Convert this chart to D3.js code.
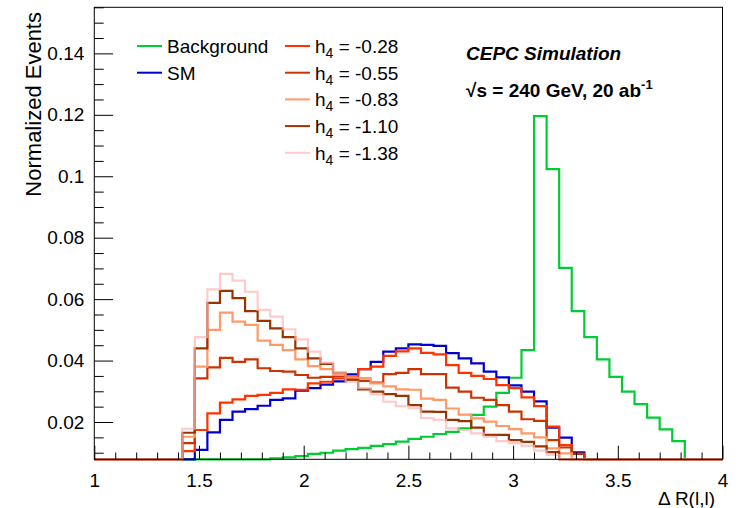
<!DOCTYPE html>
<html>
<head>
<meta charset="utf-8">
<script src="https://cdn.jsdelivr.net/npm/d3@7"></script>
<style>
  body { margin: 0; background: #fff; }
  svg { display: block; font-family: "Liberation Sans", Arial, Helvetica, sans-serif; }
</style>
</head>
<body>
<svg id="chart" width="738" height="508"></svg>
<script>
// Binning of the histograms: 50 bins of 0.06 between 1 and 4.
const xRange = [1, 4];
const nBins = 50;
const yRange = [0.00786, 0.155];

const xMajorTicks = [1, 1.5, 2, 2.5, 3, 3.5, 4];
const yMajorTicks = [0.02, 0.04, 0.06, 0.08, 0.1, 0.12, 0.14];

// Bin contents (normalized).
const background = [
    0, 0, 0, 0, 0, 0, 0, 0.0045, 0.005, 0.0055,
    0.006, 0.0065, 0.007, 0.0075, 0.0082, 0.0085, 0.0089, 0.0096, 0.0100, 0.0107,
    0.0112, 0.0116, 0.0122, 0.0128, 0.0136, 0.0145, 0.0152, 0.0161, 0.0168, 0.0179,
    0.0223, 0.0250, 0.0295, 0.0344, 0.0434, 0.1196, 0.1023, 0.0702, 0.0561, 0.0476,
    0.0404, 0.0347, 0.0299, 0.0258, 0.0214, 0.0176, 0.0138, 0.004, 0.001, 0
];
const sm = [
    0, 0, 0, 0, 0, 0, 0, 0.005, 0.0109, 0.0166,
    0.0207, 0.0234, 0.0242, 0.0253, 0.0272, 0.0277, 0.0302, 0.0310, 0.0322, 0.0332,
    0.0355, 0.0372, 0.0396, 0.0429, 0.0440, 0.0453, 0.0451, 0.0448, 0.0424, 0.0407,
    0.0391, 0.0364, 0.0345, 0.0319, 0.0299, 0.0267, 0.0182, 0.0149, 0.0101, 0,
    0, 0, 0, 0, 0, 0, 0, 0, 0, 0
];
const h4m028 = [
    0, 0, 0, 0, 0, 0, 0, 0.0105, 0.0174, 0.0228,
    0.0263, 0.0274, 0.0285, 0.0288, 0.0295, 0.0306, 0.0305, 0.0326, 0.0331, 0.0342,
    0.0345, 0.0372, 0.0380, 0.0415, 0.0430, 0.0440, 0.0425, 0.0420, 0.0385, 0.0360,
    0.0350, 0.0340, 0.0320, 0.0310, 0.0280, 0.0252, 0.0185, 0.0125, 0.0096, 0,
    0, 0, 0, 0, 0, 0, 0, 0, 0, 0
];
const h4m055 = [
    0, 0, 0, 0, 0, 0, 0, 0.0131, 0.0342, 0.0378,
    0.0409, 0.0396, 0.0404, 0.0375, 0.0366, 0.0364, 0.0353, 0.0344, 0.0347, 0.0350,
    0.0339, 0.0334, 0.0328, 0.0356, 0.0360, 0.0372, 0.0356, 0.0356, 0.0312, 0.0299,
    0.0279, 0.0272, 0.0255, 0.0234, 0.0209, 0.0204, 0.0141, 0.0117, 0.0096, 0,
    0, 0, 0, 0, 0, 0, 0, 0, 0, 0
];
const h4m083 = [
    0, 0, 0, 0, 0, 0, 0, 0.0152, 0.0380, 0.0500,
    0.0556, 0.0527, 0.0516, 0.0465, 0.0451, 0.0434, 0.0404, 0.0382, 0.0372, 0.0353,
    0.0344, 0.0343, 0.0326, 0.0316, 0.0306, 0.0305, 0.0276, 0.0272, 0.0244, 0.0224,
    0.0212, 0.0201, 0.0187, 0.0177, 0.0163, 0.0150, 0.0114, 0.0098, 0.007, 0,
    0, 0, 0, 0, 0, 0, 0, 0, 0, 0
];
const h4m110 = [
    0, 0, 0, 0, 0, 0, 0, 0.0165, 0.0440, 0.0588,
    0.0627, 0.0603, 0.0561, 0.0529, 0.0505, 0.0476, 0.0440, 0.0407, 0.0389, 0.0360,
    0.0337, 0.0306, 0.0299, 0.0291, 0.0285, 0.0255, 0.0234, 0.0233, 0.0207, 0.0203,
    0.0182, 0.0158, 0.0158, 0.0141, 0.0135, 0.0121, 0.0102, 0.007, 0, 0,
    0, 0, 0, 0, 0, 0, 0, 0, 0, 0
];
const h4m138 = [
    0, 0, 0, 0, 0, 0, 0, 0.0178, 0.0476, 0.0632,
    0.0682, 0.0660, 0.0624, 0.0565, 0.0543, 0.0502, 0.0469, 0.0429, 0.0393, 0.0359,
    0.0331, 0.0310, 0.0290, 0.0266, 0.0252, 0.0245, 0.0213, 0.0207, 0.0179, 0.0174,
    0.0163, 0.0152, 0.0138, 0.0131, 0.0122, 0.0107, 0.0093, 0.006, 0, 0,
    0, 0, 0, 0, 0, 0, 0, 0, 0, 0
];

const h4Labels = ["-0.28", "-0.55", "-0.83", "-1.10", "-1.38"];

// The last (pink) curve is a bit transparent, so the shared bottom line turns salmon.
const series = [
    { name: "Background", values: background, color: "#00cc33", opacity: 1 },
    { name: "SM", values: sm, color: "#0000cc", opacity: 1 },
    { name: h4Labels[0], values: h4m028, color: "#ff3300", opacity: 1 },
    { name: h4Labels[1], values: h4m055, color: "#cc3300", opacity: 1 },
    { name: h4Labels[2], values: h4m083, color: "#ff9966", opacity: 1 },
    { name: h4Labels[3], values: h4m110, color: "#993300", opacity: 1 },
    { name: h4Labels[4], values: h4m138, color: "#ffb3b3", opacity: 0.7 },
];

const svg = d3.select("#chart");
const frame = { left: 94.3, right: 722.5, top: 7.3, bottom: 459.3 };

const x = d3.scaleLinear().domain(xRange).range([frame.left, frame.right]);
const y = d3.scaleLinear().domain(yRange).range([frame.bottom, frame.top]);

const binWidth = (xRange[1] - xRange[0]) / nBins;

svg.append("clipPath")
    .attr("id", "frame-clip")
    .append("rect")
    .attr("x", frame.left)
    .attr("y", frame.top - 2)
    .attr("width", frame.right - frame.left)
    .attr("height", frame.bottom - frame.top + 4);

// Histograms as step lines; bins below the minimum sit on the frame bottom.
const step = d3.line()
    .x((d) => x(d[0]))
    .y((d) => y(Math.max(d[1], yRange[0])))
    .curve(d3.curveStepAfter);

const histG = svg.append("g").attr("clip-path", "url(#frame-clip)");
series.forEach((s) => {
    const pts = s.values.map((v, i) => [xRange[0] + i * binWidth, v]);
    pts.push([xRange[1], s.values[nBins - 1]]);
    histG.append("path")
        .attr("d", step(pts))
        .attr("fill", "none")
        .attr("stroke", s.color)
        .attr("stroke-opacity", s.opacity)
        .attr("stroke-width", 2.2);
});

// Frame.
svg.append("rect")
    .attr("x", frame.left)
    .attr("y", frame.top)
    .attr("width", frame.right - frame.left)
    .attr("height", frame.bottom - frame.top)
    .attr("fill", "none")
    .attr("stroke", "#000")
    .attr("stroke-width", 1);

// X axis: major ticks every 0.5, minor every 0.1.
const xMinor = d3.range(1, 4.001, 0.1).filter((v) => Math.abs(v * 2 - Math.round(v * 2)) > 1e-6);
svg.append("g")
    .attr("transform", `translate(0,${frame.bottom})`)
    .call(d3.axisBottom(x).tickValues(xMinor).tickSize(-6.8).tickFormat(""))
    .call((g) => g.select(".domain").remove());
svg.append("g")
    .attr("transform", `translate(0,${frame.bottom})`)
    .call(d3.axisBottom(x).tickValues(xMajorTicks).tickSize(-13.6).tickPadding(14).tickFormat((d) => String(d)))
    .call((g) => g.select(".domain").remove())
    .call((g) => g.selectAll("text").attr("font-size", 19).attr("font-family", null).attr("fill", "#000"));

// Y axis: major ticks every 0.02, minor every 0.005.
const yMinor = d3.range(0.01, 0.1551, 0.005).filter((v) => Math.abs(v * 50 - Math.round(v * 50)) > 1e-6);
svg.append("g")
    .attr("transform", `translate(${frame.left},0)`)
    .call(d3.axisLeft(y).tickValues(yMinor).tickSize(-9.4).tickFormat(""))
    .call((g) => g.select(".domain").remove());
svg.append("g")
    .attr("transform", `translate(${frame.left},0)`)
    .call(d3.axisLeft(y).tickValues(yMajorTicks).tickSize(-18.8).tickPadding(10).tickFormat((d) => String(+d.toFixed(2))))
    .call((g) => g.select(".domain").remove())
    .call((g) => g.selectAll("text").attr("font-size", 19).attr("font-family", null).attr("fill", "#000"));

// Axis titles.
svg.append("text")
    .attr("transform", "translate(41,12) rotate(-90)")
    .attr("text-anchor", "end")
    .attr("font-size", 22)
    .text("Normalized Events");

// Kept just left of the "4" label so the two texts do not collide.
svg.append("text")
    .attr("x", 715)
    .attr("y", 505)
    .attr("text-anchor", "end")
    .attr("font-size", 19)
    .text("\u0394 R(l,l)");

// Legend.
const legend = svg.append("g").attr("font-size", 19);
const leftCol = series.slice(0, 2);
const rightCol = series.slice(2);
const rowGap = 26.7;

leftCol.forEach((s, i) => {
    const yy = 46 + i * rowGap;
    legend.append("line")
        .attr("x1", 137).attr("x2", 162)
        .attr("y1", yy).attr("y2", yy)
        .attr("stroke", s.color).attr("stroke-width", 2);
    legend.append("text")
        .attr("x", 167).attr("y", yy + 7)
        .text(s.name);
});

rightCol.forEach((s, i) => {
    const yy = 46 + i * rowGap;
    legend.append("line")
        .attr("x1", 285).attr("x2", 310)
        .attr("y1", yy).attr("y2", yy)
        .attr("stroke", s.color).attr("stroke-opacity", s.opacity).attr("stroke-width", 2);
    const t = legend.append("text").attr("x", 315).attr("y", yy + 7);
    t.append("tspan").text("h");
    t.append("tspan").attr("dy", 5).attr("font-size", 14).text("4");
    t.append("tspan").attr("dy", -5).text(" = " + s.name);
});

// Labels in the top right corner.
svg.append("text")
    .attr("x", 466).attr("y", 60)
    .attr("font-size", 19)
    .attr("font-weight", "bold")
    .attr("font-style", "italic")
    .text("CEPC Simulation");

const energy = svg.append("text")
    .attr("x", 466).attr("y", 97)
    .attr("font-size", 19)
    .attr("font-weight", "bold");
energy.append("tspan").text("\u221As = 240 GeV, 20 ab");
energy.append("tspan").attr("dy", -8).attr("font-size", 13).text("-1");
</script>
</body>
</html>
